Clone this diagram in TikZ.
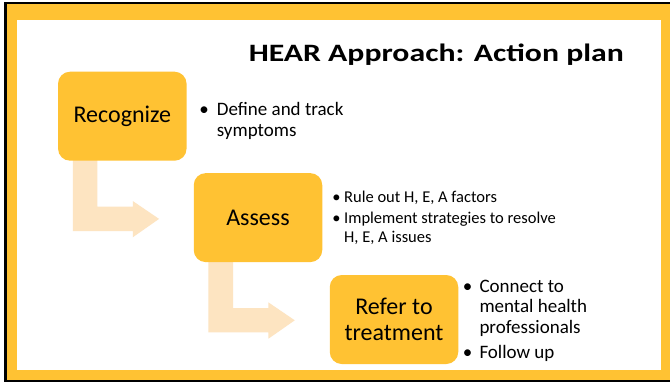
\documentclass[tikz,border=0pt]{standalone}
\usepackage{fontspec}
\setmainfont{Carlito}
\usetikzlibrary{calc}
\definecolor{gold}{RGB}{255,194,51}
\definecolor{peach}{RGB}{253,228,193}
\begin{document}
\begin{tikzpicture}[x=1pt,y=-1pt,
  stepbox/.style={fill=gold, rounded corners=12pt, minimum width=128.5pt,
    minimum height=89pt, inner sep=0pt, align=center,
    font=\fontsize{24}{25.5}\selectfont},
  % multi-line items are anchored at the baseline of their last line
  bigitem/.style={anchor=base west, inner sep=0pt, align=left,
    font=\fontsize{19}{20.5}\selectfont},
  smallitem/.style={anchor=base west, inner sep=0pt, align=left,
    font=\fontsize{16.5}{19.5}\selectfont},
  bigdot/.style={anchor=base, inner sep=0pt, font=\fontsize{19}{20.5}\selectfont},
  smalldot/.style={anchor=base, inner sep=0pt, font=\fontsize{16.5}{19.5}\selectfont},
  flow/.style={fill=peach, draw=none}
]
\useasboundingbox (0,0) rectangle (670,381);

% frame: dark edge, gold band, white page
\fill[black] (4,2) rectangle (672,383);
\fill[gold] (6.5,3.5) rectangle (670,380);
\fill[white] (17,19.5) rectangle (661,370);

% title
\node[anchor=base east, inner sep=0pt, font=\fontsize{25}{27}\selectfont\bfseries]
  (title) at (624,61) {\scalebox{1.27}[1]{HEAR Approach: Action plan}};

% step positions (coordinates only; boxes are drawn after the arrows)
\coordinate (recc) at (122.3,116.2);
\coordinate (assc) at (258,217.6);
\coordinate (refc) at (394,319.5);

% bent arrows below the steps, measured from each box's lower-left corner
\foreach \c in {recc,assc}{
  \coordinate (sw) at ($(\c)+(-64.25,44.5)$);
  \fill[flow] ($(sw)+(14.7,-3)$) -- ($(sw)+(39.3,-3)$)
    -- ($(sw)+(39.3,46)$) -- ($(sw)+(74.7,46)$)
    -- ($(sw)+(74.7,40.3)$) -- ($(sw)+(101,58.2)$)
    -- ($(sw)+(74.7,76.6)$) -- ($(sw)+(74.7,70.3)$)
    -- ($(sw)+(14.7,70.3)$) -- cycle;
}

% steps
\node[stepbox] (rec) at (recc) {Recognize};
\node[stepbox] (ass) at (assc) {Assess};
\node[stepbox] (ref) at (refc) {Refer to\\treatment};

% bullet lists
\node[bigdot] (d1) at (204,115.5) {\textbullet};
\node[bigitem] (t1) at (216.7,136) {Define and track\\symptoms};

\node[smalldot] (d2) at (336.5,202.5) {\textbullet};
\node[smallitem] (t2) at (344,202.5) {Rule out H, E, A factors};
\node[smalldot] (d3) at (336.5,223) {\textbullet};
\node[smallitem] (t3) at (344,242.5) {Implement strategies to resolve\\H, E, A issues};

\node[bigdot] (d4) at (467.5,292.3) {\textbullet};
\node[bigitem] (t4) at (479.3,333.3) {Connect to\\mental health\\professionals};
\node[bigdot] (d5) at (467.5,358.3) {\textbullet};
\node[bigitem] (t5) at (479.3,358.3) {Follow up};
\end{tikzpicture}
\end{document}
